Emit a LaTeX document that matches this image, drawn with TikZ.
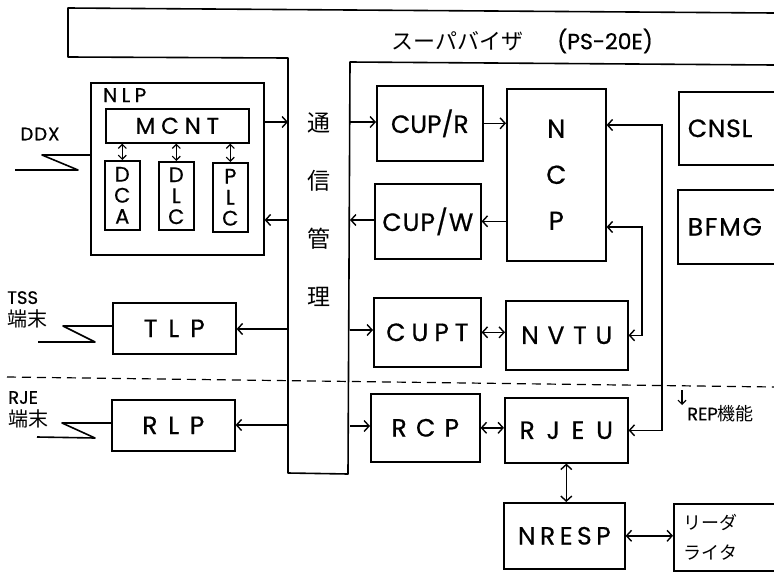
\documentclass[tikz,border=0pt]{standalone}
\usepackage{fontspec}
\setmainfont{Poppins}
\newfontfamily\hand[FakeBold=0.6]{Poppins}
\newfontfamily\jp{Noto Sans CJK JP}
\usetikzlibrary{arrows.meta}
\tikzset{
  ln/.style={line width=1.6pt, line join=round},
  box/.style={draw, line width=1.6pt, rectangle, inner sep=0pt, anchor=north west},
  trk/.style 2 args={font=\hand\fontsize{#1}{#1}\selectfont\addfontfeatures{LetterSpace=#2}},
  stack/.style 2 args={align=center, font=\hand\fontsize{#1}{#2}\selectfont},
  jpf/.style 2 args={font=\jp\fontsize{#1}{#2}\selectfont},
  arr/.style={line width=1.6pt, -{Straight Barb[length=5pt,width=11pt,line width=1.4pt]}},
  darr/.style={line width=1.6pt, {Straight Barb[length=5pt,width=11pt,line width=1.4pt]}-{Straight Barb[length=5pt,width=11pt,line width=1.4pt]}},
  sdarr/.style={line width=1.3pt, {Straight Barb[length=4pt,width=8pt,line width=1.2pt]}-{Straight Barb[length=4pt,width=8pt,line width=1.2pt]}},
  sarr/.style={line width=1.2pt, -{Straight Barb[length=4pt,width=8pt,line width=1.1pt]}},
  dashln/.style={line width=1.2pt, dash pattern=on 9pt off 6pt}
}
\begin{document}
\begin{tikzpicture}[x=1pt,y=-1pt]
\fill[white] (0,0) rectangle (774,576);
\useasboundingbox (0,0) rectangle (774,576);

% supervisor band and communication-management column
\draw[ln] (774,13) -- (68,8) -- (68,57) -- (288,58) -- (288,473) -- (348,474) -- (350,62) -- (774,65);
\node[anchor=west, font=\fontsize{22}{26}\selectfont] (sup) at (388,41) {{\jp スーパバイザ}\hspace{34pt}{\hand (PS-20E)}};
\node[jpf={23}{58}, align=center] (comm) at (319,210) {通\\信\\管\\理};

% dashed separator
\coordinate (dl) at (7,377);
\coordinate (dr) at (774,387);
\draw[dashln] (dl) -- (dr);

% NLP
\node[box, minimum width=173, minimum height=172] (nlp) at (90,82) {};
\node[anchor=north west, inner sep=0pt, trk={20}{22}] (nlplbl) at (103,88) {NLP};
\node[box, minimum width=143, minimum height=34, trk={23}{25}] (mcnt) at (105,108) {MCNT};
\node[box, minimum width=35, minimum height=69, stack={21}{21}] (dca) at (104,160) {D\\C\\A};
\node[box, minimum width=35, minimum height=68, stack={21}{21}] (dlc) at (158,161) {D\\L\\C};
\node[box, minimum width=35, minimum height=69, stack={21}{21}] (plc) at (212,162) {P\\L\\C};
\draw[sdarr] (dca.north |- mcnt.south) -- (dca.north);
\draw[sdarr] (dlc.north |- mcnt.south) -- (dlc.north);
\draw[sdarr] (plc.north |- mcnt.south) -- (plc.north);

% DDX line
\node[trk={18}{6}] (ddx) at (40,134) {DDX};
\coordinate (ddx1) at (42,155);
\coordinate (ddx2) at (78,170);
\coordinate (ddx3) at (15,170);
\draw[ln] (ddx1 -| nlp.west) -- (ddx1) -- (ddx2) -- (ddx3);

% right side processes
\node[box, minimum width=106, minimum height=75, trk={25}{0}] (cupr) at (376,85) {CUP/R};
\node[box, minimum width=106, minimum height=75, trk={25}{4}] (cupw) at (374,183) {CUP/W};
\node[box, minimum width=99, minimum height=172, stack={26}{46}] (ncp) at (506,88) {N\\C\\P};
\node[box, text width=110pt, inner xsep=9pt, minimum height=73, align=left, trk={25}{3}] (cnsl) at (678,91) {CNSL};
\node[box, text width=110pt, inner xsep=10pt, minimum height=74, align=left, trk={25}{7}] (bfmg) at (677,189) {BFMG};

\node[box, minimum width=123, minimum height=51, trk={25}{44}] (tlp) at (112,302) {TLP};
\node[box, minimum width=107, minimum height=69, trk={25}{24}] (cupt) at (373,297) {CUPT};
\node[box, minimum width=122, minimum height=69, trk={25}{35}] (nvtu) at (505,300) {NVTU};

\node[box, minimum width=123, minimum height=51, trk={25}{43}] (rlp) at (111,399) {RLP};
\node[box, minimum width=109, minimum height=68, trk={25}{37}] (rcp) at (370,393) {RCP};
\node[box, minimum width=123, minimum height=65, trk={25}{47}] (rjeu) at (504,397) {RJEU};
\node[box, minimum width=121, minimum height=66, trk={25}{18}] (nresp) at (503,502) {NRESP};
\node[box, text width=83pt, inner xsep=10pt, minimum height=67, align=left, jpf={18}{30}] (rw) at (673,503) {リーダ\\ライタ};

% terminal labels
\node[anchor=north west, inner sep=0pt, align=left, font=\fontsize{18}{23}\selectfont] (tss) at (7,291) {{\hand TSS}\\{\jp\fontsize{20}{23}\selectfont 端末}};
\node[anchor=north west, inner sep=0pt, align=left, font=\fontsize{18}{23}\selectfont] (rje) at (8,391) {{\hand RJE}\\{\jp\fontsize{20}{23}\selectfont 端末}};
\coordinate (tss1) at (63,326);
\coordinate (tss2) at (95,342);
\coordinate (tss3) at (38,342);
\draw[ln] (tss1 -| tlp.west) -- (tss1) -- (tss2) -- (tss3);
\coordinate (rje1) at (62,423);
\coordinate (rje2) at (95,438);
\coordinate (rje3) at (37,437);
\draw[ln] (rje1 -| rlp.west) -- (rje1) -- (rje2) -- (rje3);

% REP function label
\node[anchor=north west, inner sep=0pt, font=\fontsize{18}{20}\selectfont] (rep) at (687,405) {{\hand REP}{\jp 機能}};
\coordinate (repa) at (682,390);
\draw[sarr] (repa) -- (repa |- rep.north);

% connectors with the communication-management column
\coordinate (cL1) at (288,122);
\coordinate (cL2) at (288,220);
\coordinate (cL3) at (288,329);
\coordinate (cL4) at (288,425);
\coordinate (cR1) at (350,122);
\coordinate (cR2) at (350,220);
\coordinate (cR3) at (350,330);
\coordinate (cR4) at (350,426);
\draw[arr] (cL1 -| nlp.east) -- (cL1);
\draw[arr] (cL2) -- (cL2 -| nlp.east);
\draw[arr] (cL3) -- (cL3 -| tlp.east);
\draw[arr] (cL4) -- (cL4 -| rlp.east);
\draw[arr] (cR1) -- (cR1 -| cupr.west);
\draw[arr] (cR2 -| cupw.west) -- (cR2);
\draw[arr] (cR3) -- (cR3 -| cupt.west);
\draw[arr] (cR4) -- (cR4 -| rcp.west);

% process connectors
\draw[arr] (cupr.east) -- (cupr.east -| ncp.west);
\draw[arr] (ncp.west |- cupw.east) -- (cupw.east);
\coordinate (k1) at (662,125);
\coordinate (k2) at (642,227);
\draw[darr] (k1 -| ncp.east) -- (k1) |- (rjeu.east);
\draw[darr] (k2 -| ncp.east) -- (k2) |- (nvtu.east);
\draw[darr] (cupt.east) -- (cupt.east -| nvtu.west);
\draw[darr] (rcp.east) -- (rcp.east -| rjeu.west);
\draw[darr] (rjeu.south) -- (rjeu.south |- nresp.north);
\draw[darr] (nresp.east) -- (nresp.east -| rw.west);
\end{tikzpicture}
\end{document}
